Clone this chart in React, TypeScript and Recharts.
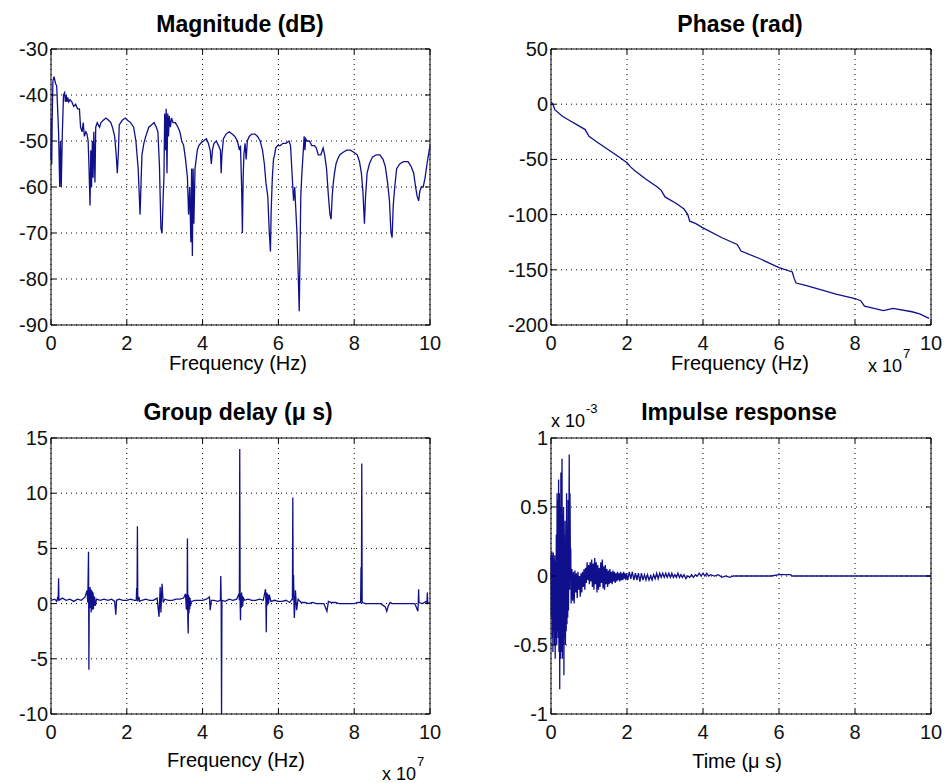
import React from 'react';
import { LineChart, Line, XAxis, YAxis, CartesianGrid, ReferenceArea } from 'recharts';

const FONT = '"Liberation Sans", Arial, Helvetica, sans-serif';
const TRACE = '#10108c';

// tick values
const freqTicks = [0, 2, 4, 6, 8, 10];
const timeTicks = [0, 2, 4, 6, 8, 10];
const magTicks = [-90, -80, -70, -60, -50, -40, -30];
const phaseTicks = [-200, -150, -100, -50, 0, 50];
const delayTicks = [-10, -5, 0, 5, 10, 15];
const impulseTicks = [-1, -0.5, 0, 0.5, 1];

// magnitude: [frequency x 1e7 Hz, dB]
const magnitudePoints: [number, number][] = [
  [0, -54], [0.01, -45], [0.02, -55], [0.03, -46], [0.05, -37], [0.08, -36], [0.12, -37.5], [0.15, -38],
  [0.18, -44], [0.2, -48], [0.23, -60], [0.25, -50], [0.27, -60], [0.3, -48], [0.33, -40], [0.36, -39.5],
  [0.38, -41.5], [0.4, -40], [0.42, -41.5], [0.44, -40.5], [0.47, -41.5], [0.5, -41], [0.55, -41.5],
  [0.6, -42.5], [0.65, -42], [0.7, -43], [0.75, -43], [0.78, -47], [0.82, -48], [0.85, -46], [0.88, -49],
  [0.92, -48], [0.95, -48.5], [0.98, -50], [1.0, -55], [1.03, -64], [1.05, -52], [1.07, -60], [1.09, -50],
  [1.11, -58], [1.13, -48], [1.16, -59], [1.18, -47], [1.22, -46], [1.28, -47], [1.32, -46], [1.38, -45.5],
  [1.45, -45], [1.52, -45.5], [1.58, -46], [1.62, -47], [1.68, -49], [1.72, -53], [1.75, -57], [1.78, -52],
  [1.8, -46.5], [1.88, -45.5], [1.96, -45], [2.02, -45.5], [2.1, -46], [2.18, -47], [2.24, -50], [2.3, -56],
  [2.35, -66], [2.38, -58], [2.4, -53], [2.45, -50.5], [2.5, -49], [2.58, -47], [2.65, -46.5], [2.72, -46],
  [2.78, -47], [2.82, -48], [2.86, -55], [2.9, -69], [2.93, -70], [2.96, -62], [2.98, -58], [3.0, -44],
  [3.02, -52], [3.04, -43], [3.06, -57], [3.08, -44], [3.1, -49], [3.12, -44.5], [3.15, -47], [3.18, -45],
  [3.22, -46], [3.28, -46], [3.35, -47], [3.4, -48], [3.45, -50], [3.5, -51], [3.55, -54], [3.6, -58],
  [3.63, -66], [3.66, -60], [3.69, -72], [3.71, -56], [3.73, -75], [3.75, -56], [3.77, -68], [3.8, -56],
  [3.83, -54], [3.86, -52], [3.9, -51], [3.95, -50.5], [4.02, -50], [4.1, -49.5], [4.15, -50.5], [4.2, -52],
  [4.23, -55], [4.26, -52], [4.3, -50.5], [4.36, -50], [4.42, -51], [4.47, -52], [4.49, -57], [4.51, -53],
  [4.55, -49.5], [4.62, -48.5], [4.7, -48], [4.78, -48.5], [4.85, -49], [4.92, -50], [4.97, -52], [5.0, -51],
  [5.03, -60], [5.05, -70], [5.07, -58], [5.09, -53], [5.12, -50.5], [5.15, -54], [5.18, -50], [5.23, -49],
  [5.3, -48.5], [5.38, -48.5], [5.45, -49], [5.52, -50], [5.58, -52], [5.63, -55], [5.67, -59], [5.72, -62],
  [5.76, -70], [5.79, -74], [5.81, -65], [5.84, -58], [5.87, -54], [5.9, -53], [5.93, -51.5], [5.98, -51],
  [6.05, -51], [6.12, -50.5], [6.2, -50.5], [6.28, -50], [6.32, -51], [6.36, -57], [6.4, -63], [6.43, -60],
  [6.46, -65], [6.49, -70], [6.52, -78], [6.55, -87], [6.57, -75], [6.59, -62], [6.62, -57], [6.65, -53],
  [6.68, -49], [6.7, -52], [6.72, -49.5], [6.76, -50], [6.82, -50], [6.88, -51], [6.95, -51], [7.0, -51.5],
  [7.05, -53], [7.12, -53], [7.18, -51.5], [7.22, -53], [7.27, -56], [7.32, -62], [7.36, -66], [7.39, -67],
  [7.42, -62], [7.45, -59], [7.48, -57], [7.52, -55], [7.56, -54], [7.62, -53], [7.7, -52.5], [7.8, -52],
  [7.9, -52], [8.0, -52.5], [8.08, -53], [8.14, -54.5], [8.19, -57], [8.23, -61], [8.27, -68], [8.3, -62],
  [8.34, -57], [8.4, -55], [8.48, -53.5], [8.58, -53], [8.68, -53], [8.76, -54], [8.82, -55.5], [8.88, -59],
  [8.93, -63], [8.97, -70], [9.0, -71], [9.03, -64], [9.07, -60], [9.12, -56], [9.2, -55], [9.3, -54.5],
  [9.42, -54.5], [9.5, -55.5], [9.57, -57], [9.62, -60], [9.66, -62], [9.7, -63], [9.73, -61], [9.77, -60],
  [9.82, -60], [9.87, -58], [9.92, -55], [9.96, -53], [10.0, -51],
];

// phase: [frequency x 1e7 Hz, rad]
const phasePoints: [number, number][] = [
  [0, 2], [0.05, 0], [0.1, -5], [0.3, -11], [0.5, -15], [0.7, -19], [0.9, -23], [0.95, -26], [1.0, -29],
  [1.2, -34], [1.5, -41], [1.8, -48], [2.0, -53], [2.1, -57], [2.2, -60], [2.5, -68], [2.8, -75], [2.9, -78],
  [3.0, -84], [3.3, -90], [3.5, -95], [3.6, -100], [3.65, -106], [3.8, -108], [4.0, -112], [4.5, -121],
  [4.9, -127], [5.0, -133], [5.5, -140], [6.0, -148], [6.35, -152], [6.4, -158], [6.45, -162], [6.7, -164],
  [7.0, -167], [7.5, -172], [8.0, -176], [8.15, -178], [8.25, -183], [8.5, -185], [8.75, -187], [9.0, -185],
  [9.5, -188], [9.7, -190], [9.95, -194],
];

// group delay: [frequency x 1e7 Hz, microseconds]
const delayPoints: [number, number][] = [
  [0, 0.3], [0.1, 0.4], [0.15, 0.2], [0.18, 0.6], [0.19, 0.3], [0.2, 2.3], [0.21, 0.3], [0.3, 0.5], [0.4, 0.3],
  [0.5, 0.4], [0.6, 0.2], [0.7, 0.4], [0.8, 0.3], [0.9, 0.6], [0.95, 1.2], [0.97, 0.1], [0.99, 4.7], [1.0, -6],
  [1.01, 1.3], [1.02, -0.2], [1.03, 1.5], [1.04, -0.4], [1.05, 1.3], [1.06, -0.8], [1.07, 1.2], [1.08, -0.6],
  [1.09, 1.1], [1.1, -0.5], [1.11, 1.0], [1.12, -0.5], [1.13, 0.7], [1.14, -0.2], [1.15, 0.6], [1.17, -0.2],
  [1.2, 0.4], [1.3, 0.3], [1.4, 0.4], [1.5, 0.3], [1.6, 0.4], [1.68, 0.2], [1.71, -1.0], [1.73, 0.3], [1.8, 0.4],
  [1.9, 0.3], [2.0, 0.3], [2.1, 0.4], [2.2, 0.3], [2.25, 0.3], [2.26, 1.4], [2.27, 0.4], [2.28, 7.0], [2.29, 0.2],
  [2.32, 0.6], [2.34, 0.2], [2.4, 0.3], [2.5, 0.4], [2.6, 0.3], [2.7, 0.3], [2.8, 0.5], [2.85, -1.2], [2.88, 1.5],
  [2.9, -0.8], [2.93, 1.8], [2.96, 0.1], [3.0, 0.4], [3.1, 0.3], [3.2, 0.3], [3.3, 0.4], [3.4, 0.4], [3.5, 0.5],
  [3.55, 0.9], [3.57, -0.5], [3.58, 0.8], [3.59, -0.6], [3.6, 5.9], [3.61, -1.5], [3.62, -2.7], [3.63, 0.8],
  [3.64, -0.9], [3.65, 0.6], [3.66, -0.5], [3.67, 0.5], [3.68, -0.2], [3.7, 0.2], [3.8, 0.3], [3.9, 0.3],
  [4.0, 0.3], [4.1, 0.4], [4.18, 0.6], [4.2, -0.6], [4.23, 0.3], [4.3, 0.3], [4.4, 0.2], [4.47, 0.3], [4.48, 2.5],
  [4.49, 0.3], [4.5, -10], [4.51, 0.3], [4.6, 0.2], [4.7, 0.4], [4.8, 0.3], [4.9, 0.4], [4.96, 0.9], [4.97, 0.3],
  [4.98, 14], [4.99, 0.2], [5.0, -1.5], [5.01, 0.9], [5.02, -0.4], [5.03, 1.0], [5.04, -0.3], [5.05, 0.7],
  [5.06, -0.2], [5.07, 0.6], [5.1, 0.3], [5.2, 0.4], [5.3, 0.3], [5.4, 0.3], [5.5, 0.4], [5.6, 0.3], [5.66, 1.3],
  [5.67, 0.2], [5.68, -2.6], [5.69, 1.0], [5.7, -0.2], [5.71, 0.9], [5.72, -0.1], [5.73, 0.8], [5.74, 0.0],
  [5.76, 0.8], [5.8, 0.2], [5.9, 0.3], [6.0, 0.2], [6.1, 0.2], [6.2, 0.3], [6.3, 0.1], [6.36, 0.4], [6.37, 0.3],
  [6.38, 9.6], [6.39, 0.5], [6.4, 2.6], [6.41, 0.2], [6.42, -1.3], [6.45, 1.2], [6.48, -0.6], [6.52, 0.4],
  [6.6, 0.1], [6.7, 0.1], [6.8, 0.0], [6.9, 0.1], [7.0, 0.0], [7.2, 0.0], [7.28, -0.7], [7.32, 0.2], [7.4, 0.1],
  [7.5, 0.1], [7.6, 0.0], [7.8, 0.0], [8.0, 0.0], [8.1, 0.1], [8.17, 0.1], [8.18, 3.3], [8.19, 0.2],
  [8.2, 12.7], [8.21, 0.1], [8.3, 0.0], [8.4, 0.0], [8.5, 0.0], [8.7, 0.0], [8.82, -0.3], [8.86, -0.7],
  [8.9, -0.2], [8.95, 0.1], [9.0, 0.0], [9.2, 0.0], [9.4, 0.0], [9.6, 0.0], [9.68, -0.7], [9.69, 0.0],
  [9.7, 1.3], [9.71, 0.1], [9.8, 0.0], [9.9, 0.2], [9.92, 0.1], [9.93, 1.0], [9.94, 0.0], [10, 0.1],
];

// impulse response: [time in microseconds, amplitude x 1e-3]
const impulsePoints: [number, number][] = [
  [0, 0.15], [0.01, -0.3], [0.02, 0.18], [0.03, -0.45], [0.04, 0.15], [0.05, -0.55], [0.06, 0.17],
  [0.07, -0.4], [0.08, 0.12], [0.09, -0.5], [0.1, 0.15], [0.11, -0.6], [0.12, 0.1], [0.13, -0.45],
  [0.14, 0.3], [0.15, -0.5], [0.16, 0.6], [0.17, -0.4], [0.18, 0.55], [0.19, -0.45], [0.2, 0.7],
  [0.21, -0.55], [0.22, 0.6], [0.23, -0.82], [0.24, 0.5], [0.25, -0.6], [0.26, 0.75], [0.27, -0.55],
  [0.28, 0.5], [0.29, 0.85], [0.3, -0.6], [0.31, 0.45], [0.32, -0.5], [0.33, 0.5], [0.34, -0.72],
  [0.35, 0.3], [0.36, -0.45], [0.37, 0.4], [0.38, -0.5], [0.39, 0.2], [0.4, -0.4], [0.41, 0.6],
  [0.42, -0.35], [0.43, 0.3], [0.44, -0.3], [0.45, 0.55], [0.46, -0.25], [0.47, 0.35], [0.48, 0.88],
  [0.49, -0.1], [0.5, 0.6], [0.51, 0.1], [0.52, 0.2], [0.53, -0.2], [0.55, 0.05], [0.57, -0.18],
  [0.59, 0.03], [0.61, -0.2], [0.63, 0.04], [0.65, -0.12], [0.67, 0.02], [0.69, -0.16], [0.71, 0.03],
  [0.73, -0.1], [0.75, 0.0], [0.77, -0.15], [0.79, 0.02], [0.81, -0.12], [0.83, 0.03], [0.85, -0.08],
  [0.87, 0.05], [0.89, -0.1], [0.91, 0.06], [0.93, -0.05], [0.95, 0.1], [0.97, -0.03], [0.99, 0.08],
  [1.01, -0.06], [1.03, 0.1], [1.05, -0.04], [1.07, 0.12], [1.09, -0.08], [1.11, 0.09], [1.13, -0.1],
  [1.15, 0.13], [1.17, -0.06], [1.19, 0.1], [1.21, -0.12], [1.23, 0.08], [1.25, -0.1], [1.27, 0.06],
  [1.29, -0.08], [1.31, 0.1], [1.33, -0.05], [1.35, 0.12], [1.37, -0.09], [1.39, 0.07], [1.41, -0.1],
  [1.43, 0.08], [1.45, -0.06], [1.47, 0.05], [1.49, -0.08], [1.51, 0.04], [1.53, -0.06], [1.55, 0.05],
  [1.57, -0.05], [1.59, 0.03], [1.61, -0.06], [1.63, 0.04], [1.65, -0.04], [1.67, 0.03], [1.69, -0.05],
  [1.71, 0.02], [1.73, -0.04], [1.75, 0.03], [1.77, -0.03], [1.79, 0.02], [1.81, -0.04], [1.83, 0.03],
  [1.85, -0.03], [1.87, 0.02], [1.89, -0.03], [1.91, 0.03], [1.93, -0.02], [1.95, 0.02], [1.97, -0.03],
  [1.99, 0.02], [2.02, -0.03], [2.06, 0.03], [2.1, -0.02], [2.14, 0.03], [2.18, -0.03], [2.22, 0.02],
  [2.26, -0.03], [2.3, 0.02], [2.34, -0.04], [2.38, 0.02], [2.42, -0.03], [2.46, 0.01], [2.5, -0.03],
  [2.54, 0.01], [2.58, -0.03], [2.62, 0.0], [2.66, -0.03], [2.7, 0.01], [2.74, -0.02], [2.78, 0.02],
  [2.82, -0.02], [2.86, 0.02], [2.9, -0.01], [2.94, 0.02], [2.98, -0.01], [3.02, 0.02], [3.06, -0.01],
  [3.1, 0.02], [3.14, -0.01], [3.18, 0.02], [3.22, -0.01], [3.26, 0.01], [3.3, -0.01], [3.34, 0.02],
  [3.38, -0.01], [3.42, 0.01], [3.46, -0.01], [3.5, 0.01], [3.55, -0.02], [3.6, 0.0], [3.65, -0.01],
  [3.7, 0.01], [3.75, -0.01], [3.8, 0.01], [3.85, 0.0], [3.9, 0.02], [3.95, 0.0], [4.0, 0.02], [4.05, 0.0],
  [4.1, 0.02], [4.15, 0.0], [4.2, 0.01], [4.3, 0.0], [4.4, 0.01], [4.5, -0.01], [4.6, 0.0], [4.7, -0.01],
  [4.8, 0.0], [5.0, 0.0], [5.5, 0.0], [5.8, 0.0], [6.0, 0.01], [6.3, 0.01], [6.35, 0.0], [7, 0], [8, 0],
  [9, 0], [10, 0],
];

type Margin = { top: number; right: number; bottom: number; left: number };

function BottomTick(props: any) {
  const { x, y, payload, plotH } = props;
  return (
    <g>
      <line x1={x} y1={y} x2={x} y2={y - 5} stroke="#000" />
      <line x1={x} y1={y - plotH} x2={x} y2={y - plotH + 5} stroke="#000" />
      <text x={x} y={y + 25} textAnchor="middle" fontSize={20} fontFamily={FONT} fill="#111">
        {payload.value}
      </text>
    </g>
  );
}

function LeftTick(props: any) {
  const { x, y, payload, plotW } = props;
  return (
    <g>
      <line x1={x} y1={y} x2={x + 5} y2={y} stroke="#000" />
      <line x1={x + plotW} y1={y} x2={x + plotW - 5} y2={y} stroke="#000" />
      <text x={x - 3} y={y + 7} textAnchor="end" fontSize={20} fontFamily={FONT} fill="#111">
        {payload.value}
      </text>
    </g>
  );
}

function Panel(p: {
  left: number; top: number; width: number; height: number; margin: Margin;
  points: [number, number][]; xTicks: number[]; yTicks: number[];
}) {
  // axes take 1px each so they still render; margins are given for the plot box
  const m = { ...p.margin, left: p.margin.left - 1, bottom: p.margin.bottom - 1 };
  const plotW = p.width - p.margin.left - p.margin.right;
  const plotH = p.height - p.margin.top - p.margin.bottom;
  const data = p.points.map(([x, y]) => ({ x, y }));
  const xDom = [p.xTicks[0], p.xTicks[p.xTicks.length - 1]];
  const yDom = [p.yTicks[0], p.yTicks[p.yTicks.length - 1]];
  return (
    <div style={{ position: 'absolute', left: p.left, top: p.top }}>
      <LineChart width={p.width} height={p.height} data={data} margin={m}>
        <CartesianGrid strokeDasharray="1 4" stroke="#000" />
        <XAxis
          dataKey="x" type="number" domain={xDom} ticks={p.xTicks} height={1}
          axisLine={false} tickLine={false} tickSize={0} tickMargin={0}
          tick={(t: any) => <BottomTick {...t} plotH={plotH} />}
          interval={0}
        />
        <YAxis
          type="number" domain={yDom} ticks={p.yTicks} width={1} allowDataOverflow
          axisLine={false} tickLine={false} tickSize={0} tickMargin={0}
          tick={(t: any) => <LeftTick {...t} plotW={plotW} />}
          interval={0}
        />
        <Line
          type="linear" dataKey="y" stroke={TRACE} strokeWidth={1.3}
          dot={false} isAnimationActive={false}
        />
        <ReferenceArea
          x1={xDom[0]} x2={xDom[1]} y1={yDom[0]} y2={yDom[1]}
          fill="none" stroke="#000" strokeWidth={1}
        />
      </LineChart>
    </div>
  );
}

export default function App() {
  const txt = { fontFamily: FONT, fill: '#000' };
  return (
    <div style={{ position: 'absolute', left: 0, top: 0, width: 944, height: 783, background: '#fff' }}>
      <Panel left={0} top={0} width={470} height={390}
        margin={{ top: 49, right: 40, bottom: 65, left: 51 }}
        points={magnitudePoints} xTicks={freqTicks} yTicks={magTicks} />
      <Panel left={470} top={0} width={474} height={390}
        margin={{ top: 49, right: 13, bottom: 65, left: 81 }}
        points={phasePoints} xTicks={freqTicks} yTicks={phaseTicks} />
      <Panel left={0} top={390} width={470} height={393}
        margin={{ top: 48, right: 40, bottom: 69, left: 51 }}
        points={delayPoints} xTicks={freqTicks} yTicks={delayTicks} />
      <Panel left={470} top={390} width={474} height={393}
        margin={{ top: 48, right: 13, bottom: 69, left: 81 }}
        points={impulsePoints} xTicks={timeTicks} yTicks={impulseTicks} />

      <svg width={944} height={783} style={{ position: 'absolute', left: 0, top: 0, pointerEvents: 'none' }}>
        <text x={240} y={32} textAnchor="middle" fontSize={23} fontWeight="bold" {...txt}>Magnitude (dB)</text>
        <text x={740} y={32} textAnchor="middle" fontSize={23} fontWeight="bold" {...txt}>Phase (rad)</text>
        <text x={238} y={420} textAnchor="middle" fontSize={23} fontWeight="bold" {...txt}>Group delay (μ s)</text>
        <text x={739} y={420} textAnchor="middle" fontSize={23} fontWeight="bold" {...txt}>Impulse response</text>

        <text x={238} y={370} textAnchor="middle" fontSize={20} {...txt}>Frequency (Hz)</text>
        <text x={740} y={370} textAnchor="middle" fontSize={20} {...txt}>Frequency (Hz)</text>
        <text x={236} y={767} textAnchor="middle" fontSize={20} {...txt}>Frequency (Hz)</text>
        <text x={737} y={768} textAnchor="middle" fontSize={20} {...txt}>Time (μ s)</text>

        <text x={868} y={372} fontSize={18} {...txt}>x 10</text>
        <text x={903} y={358} fontSize={13} {...txt}>7</text>
        <text x={382} y={780} fontSize={18} {...txt}>x 10</text>
        <text x={417} y={766} fontSize={13} {...txt}>7</text>
        <text x={551} y={427} fontSize={18} {...txt}>x 10</text>
        <text x={586} y={413} fontSize={13} {...txt}>-3</text>
      </svg>
    </div>
  );
}
